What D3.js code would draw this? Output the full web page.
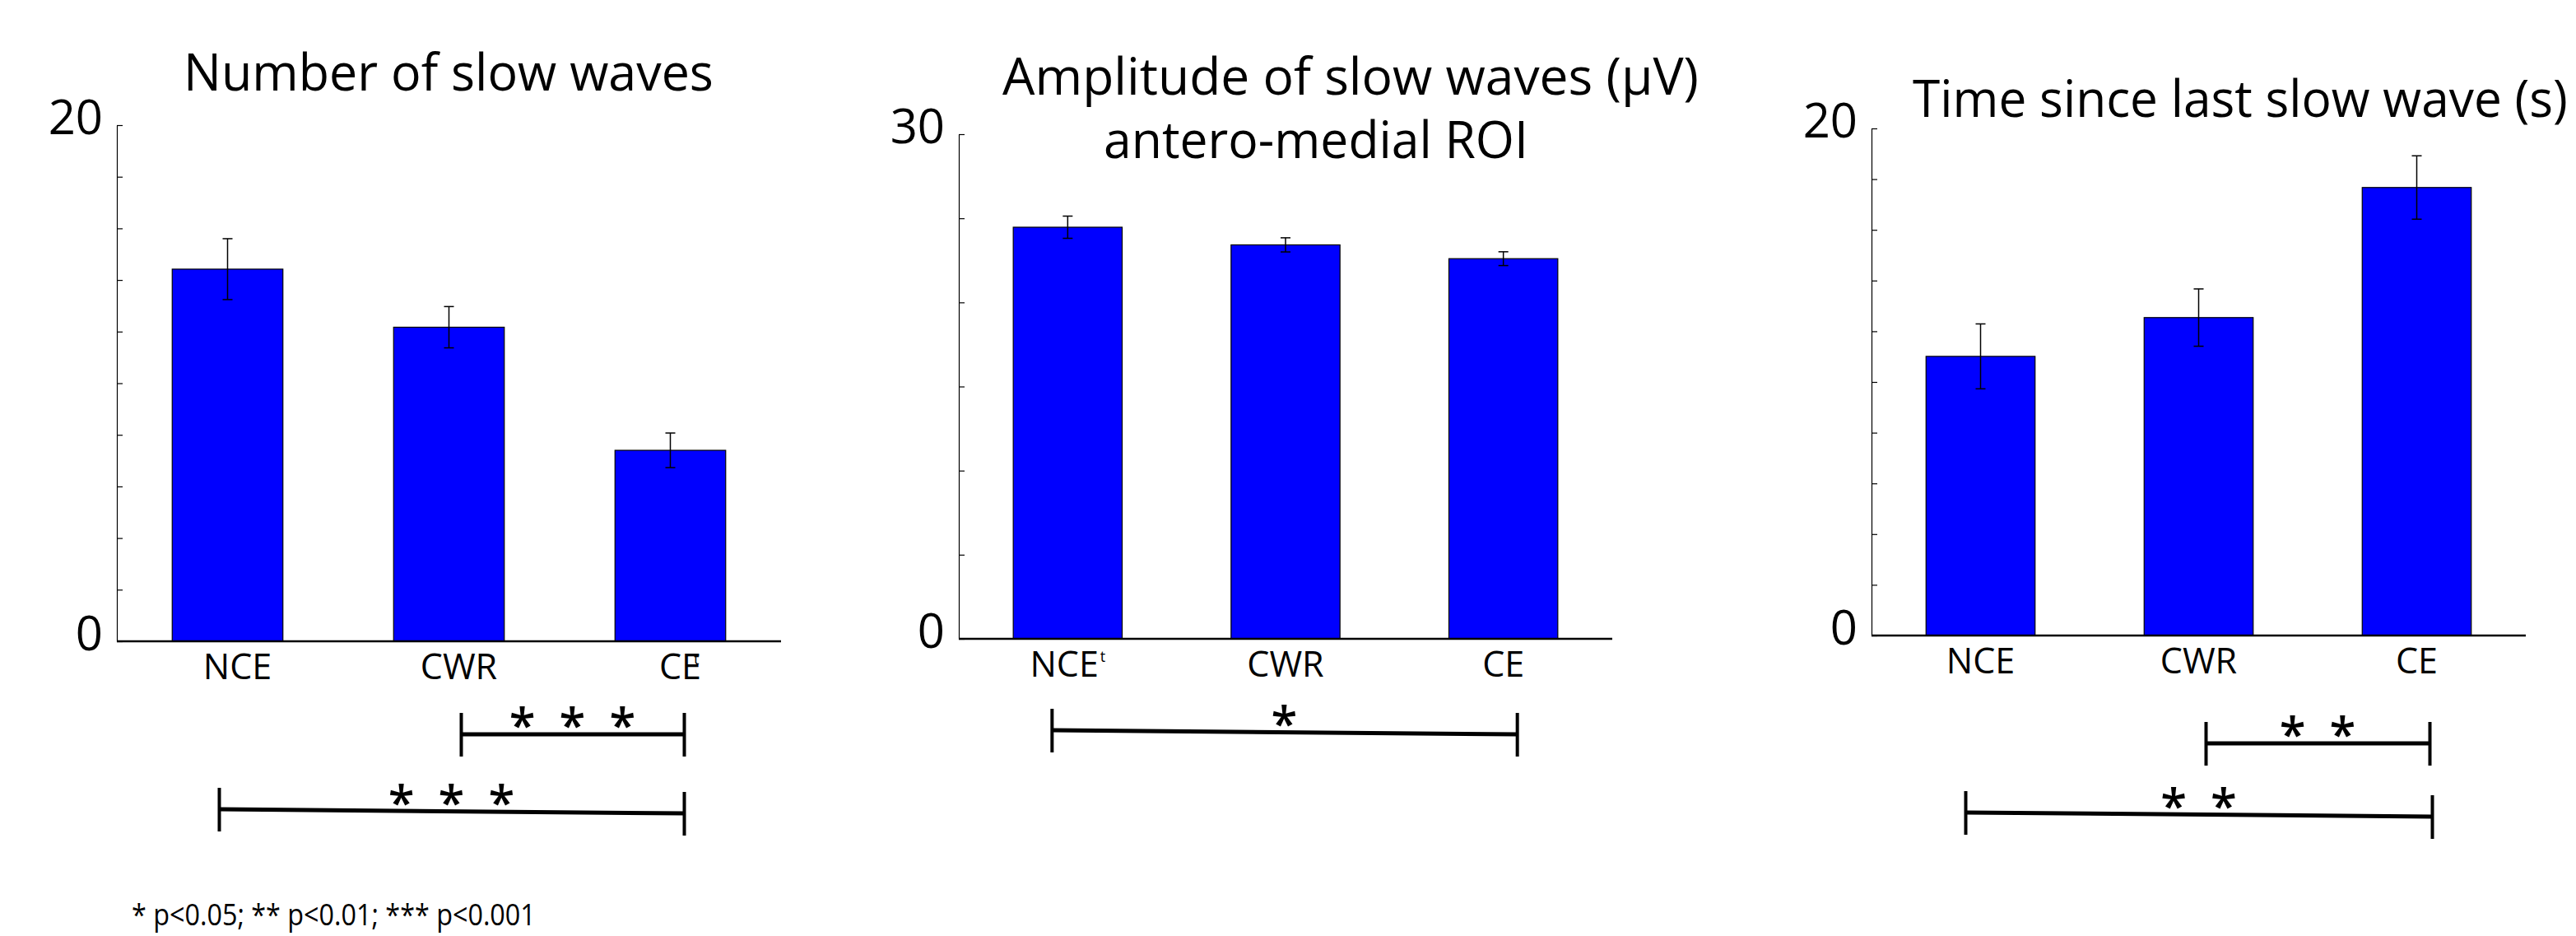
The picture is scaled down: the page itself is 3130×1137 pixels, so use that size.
<!DOCTYPE html>
<html>
<head>
<meta charset="utf-8">
<script src="https://cdnjs.cloudflare.com/ajax/libs/d3/7.8.5/d3.min.js"></script>
<style>
  body { margin: 0; background: #fff; }
  svg { display: block; }
  text { font-family: "Open Sans", sans-serif; fill: #000; }
</style>
</head>
<body>
<svg id="fig" width="3130" height="1137"></svg>
<script>
// conditions on the x axis
const conditions = ["NCE", "CWR", "CE"];

// panel 1 : number of slow waves
const swNumber = [14.42, 12.17, 7.40];
const swNumberErr = [1.18, 0.80, 0.67];

// panel 2 : amplitude of slow waves (uV), antero-medial ROI
const swAmplitude = [24.47, 23.42, 22.60];
const swAmplitudeErr = [0.66, 0.42, 0.41];

// panel 3 : time since last slow wave (s)
const swTime = [11.01, 12.54, 17.67];
const swTimeErr = [1.28, 1.13, 1.25];

// y axis ranges and minor tick steps
const yMaxes = [20, 30, 20];
const ySteps = [2, 5, 2];

const titles = [
  ["Number of slow waves"],
  ["Amplitude of slow waves (µV)", "antero-medial ROI"],
  ["Time since last slow wave (s)"]
];

// significance brackets: [from, to, stars]
const sigNumber = [["CWR", "CE", "* * *"], ["NCE", "CE", "* * *"]];
const sigAmplitude = [["NCE", "CE", "*"]];
const sigTime = [["CWR", "CE", "* *"], ["NCE", "CE", "* *"]];

const footnote = "* p<0.05; ** p<0.01; *** p<0.001";

// layout of each panel (pixels)
const panels = [
  { values: swNumber, errs: swNumberErr, sig: sigNumber, sup: { CE: "t" },
    left: 142, right: 949, top: 152, bottom: 779, labelDx: 12,
    titleX: [545], titleY: [110], titleW: [644],
    sigY: [[113, 113], [204, 209]], sigDx: [[15, 17], [-10, 17]] },
  { values: swAmplitude, errs: swAmplitudeErr, sig: sigAmplitude, sup: { NCE: "t" },
    left: 1165, right: 1959, top: 163, bottom: 776, labelDx: 0,
    titleX: [1641, 1599], titleY: [115, 192], titleW: [846, 516],
    sigY: [[111, 116]], sigDx: [[-19, 17]] },
  { values: swTime, errs: swTimeErr, sig: sigTime, sup: {},
    left: 2274, right: 3069, top: 156, bottom: 772, labelDx: 0,
    titleX: [2722], titleY: [142], titleW: [796],
    sigY: [[131, 131], [215, 220]], sigDx: [[9, 16], [-18, 19]] }
];

const svg = d3.select("#fig");

// squeeze a text horizontally (the original font is narrower than Open Sans)
function squeeze(sel, cx, cy, w, anchor) {
  const natural = sel.node().getComputedTextLength();
  const s = Math.min(1, w / natural);
  sel.attr("x", 0).attr("y", 0)
    .attr("text-anchor", anchor)
    .attr("transform", "translate(" + cx + "," + cy + ") scale(" + s + ",1)");
}

panels.forEach((p, k) => {
  const g = svg.append("g");

  const x = d3.scaleBand()
    .domain(conditions)
    .range([p.left, p.right])
    .paddingInner(0.5)
    .paddingOuter(0.25);

  const y = d3.scaleLinear()
    .domain([0, yMaxes[k]])
    .range([p.bottom, p.top]);

  // y axis: inner minor ticks, only ends labelled
  const yAxis = g.append("g")
    .attr("transform", "translate(" + p.left + ",0)")
    .call(d3.axisRight(y)
      .tickValues(d3.range(0, yMaxes[k] + 0.001, ySteps[k]))
      .tickSize(7)
      .tickSizeOuter(0)
      .tickFormat(""));
  yAxis.select(".domain").attr("stroke", "#000").attr("stroke-width", 1.2);
  yAxis.selectAll(".tick line").attr("stroke", "#000").attr("stroke-width", 1.2);

  g.selectAll("text.ylab")
    .data([0, yMaxes[k]])
    .join("text")
    .attr("class", "ylab")
    .attr("x", p.left - 17)
    .attr("y", d => y(d) + 11)
    .attr("text-anchor", "end")
    .style("font-size", "58px")
    .text(d => d);

  // bars
  g.selectAll("rect.bar")
    .data(p.values)
    .join("rect")
    .attr("class", "bar")
    .attr("x", (d, i) => x(conditions[i]))
    .attr("y", d => y(d))
    .attr("width", x.bandwidth())
    .attr("height", d => y(0) - y(d))
    .attr("fill", "#0000ff")
    .attr("stroke", "#000")
    .attr("stroke-width", 1.2);

  // error bars
  const eb = g.selectAll("g.err")
    .data(p.values)
    .join("g")
    .attr("class", "err")
    .attr("stroke", "#000")
    .attr("stroke-width", 1.5);
  eb.append("line")
    .attr("x1", (d, i) => x(conditions[i]) + x.bandwidth() / 2)
    .attr("x2", (d, i) => x(conditions[i]) + x.bandwidth() / 2)
    .attr("y1", (d, i) => y(d + p.errs[i]))
    .attr("y2", (d, i) => y(d - p.errs[i]));
  [1, -1].forEach(s => {
    eb.append("line")
      .attr("x1", (d, i) => x(conditions[i]) + x.bandwidth() / 2 - 6)
      .attr("x2", (d, i) => x(conditions[i]) + x.bandwidth() / 2 + 6)
      .attr("y1", (d, i) => y(d + s * p.errs[i]))
      .attr("y2", (d, i) => y(d + s * p.errs[i]));
  });

  // x axis line
  g.append("line")
    .attr("x1", p.left).attr("x2", p.right)
    .attr("y1", y(0)).attr("y2", y(0))
    .attr("stroke", "#000")
    .attr("stroke-width", 2.5);

  // x labels
  const xl = g.selectAll("text.xlab")
    .data(conditions)
    .join("text")
    .attr("class", "xlab")
    .attr("x", d => x(d) + x.bandwidth() / 2 + p.labelDx)
    .attr("y", p.bottom + 46)
    .attr("text-anchor", "middle")
    .style("font-size", "43px")
    .text(d => d);
  xl.filter(d => p.sup[d])
    .append("tspan")
    .attr("dx", d => d === "CE" ? -9 : 2)
    .attr("dy", -18)
    .style("font-size", "18px")
    .text(d => p.sup[d]);

  // titles
  titles[k].forEach((t, j) => {
    const tt = g.append("text")
      .style("font-size", "63px")
      .text(t);
    squeeze(tt, p.titleX[j], p.titleY[j], p.titleW[j], "middle");
  });

  // significance brackets
  p.sig.forEach((s, j) => {
    const cx = c => x(c) + x.bandwidth() / 2;
    const x1 = cx(s[0]) + p.sigDx[j][0];
    const x2 = cx(s[1]) + p.sigDx[j][1];
    const y1 = p.bottom + p.sigY[j][0];
    const y2 = p.bottom + p.sigY[j][1];
    const br = g.append("g").attr("stroke", "#000").attr("stroke-width", 5);
    br.append("line").attr("x1", x1).attr("x2", x2).attr("y1", y1).attr("y2", y2);
    br.append("line").attr("x1", x1).attr("x2", x1).attr("y1", y1 - 26).attr("y2", y1 + 27).attr("stroke-width", 4);
    br.append("line").attr("x1", x2).attr("x2", x2).attr("y1", y2 - 26).attr("y2", y2 + 27).attr("stroke-width", 4);
    g.append("text")
      .attr("x", (x1 + x2) / 2 + 3)
      .attr("y", (y1 + y2) / 2 + 10)
      .attr("text-anchor", "middle")
      .style("font-size", "58px")
      .style("font-weight", "600")
      .style("letter-spacing", "7px")
      .style("white-space", "pre")
      .text(s[2]);
  });
});

// footnote
const fn = svg.append("text")
  .style("font-size", "36px")
  .text(footnote);
squeeze(fn, 160, 1124, 491, "start");
</script>
</body>
</html>
